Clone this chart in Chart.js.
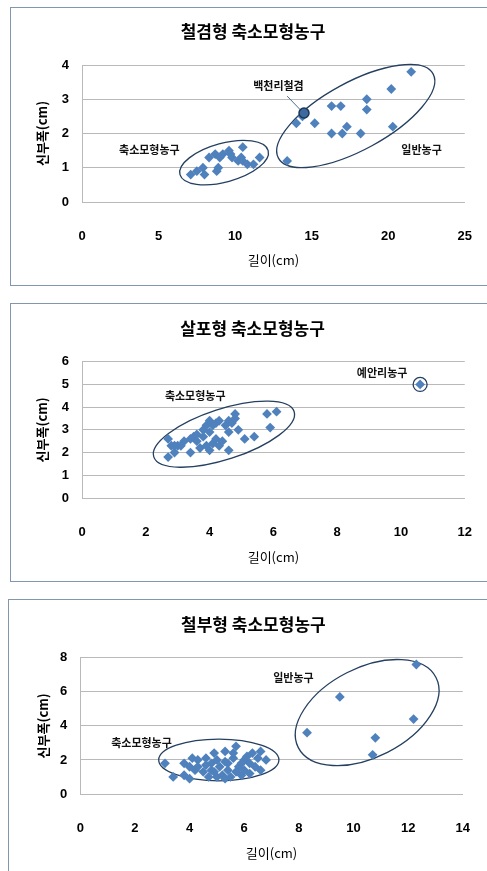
<!DOCTYPE html>
<html>
<head>
<meta charset="utf-8">
<script src="https://cdn.jsdelivr.net/npm/chart.js@4.4.0/dist/chart.umd.min.js"></script>
<style>
  html, body { margin: 0; padding: 0; background: #fff; overflow: hidden; width: 487px; height: 871px; }
  .box { position: absolute; width: 480px; height: 277px; border: 1px solid #8296ae; }
  .box canvas { display: block; }
</style>
</head>
<body>
<div class="box" style="left:10px; top:7px;"><canvas id="c1" width="480" height="277"></canvas></div>
<div class="box" style="left:10px; top:303px;"><canvas id="c2" width="480" height="277"></canvas></div>
<div class="box" style="left:8px; top:599px;"><canvas id="c3" width="480" height="277"></canvas></div>
<script>
// shared axis titles
const xTitle = '길이(cm)';
const yTitle = '신부폭(cm)';

// 1. 철겸형
const title1 = '철겸형 축소모형농구';
const xTicks1 = [0, 5, 10, 15, 20, 25];
const yTicks1 = [0, 1, 2, 3, 4];
const smallX1 = [7.1, 7.5, 7.9, 8.0, 8.3, 8.7, 8.8, 8.9, 9.0, 9.2, 9.6, 9.7, 9.8, 10.2, 10.5, 10.4, 10.5, 10.8, 11.2, 11.6];
const smallY1 = [0.8, 0.9, 1.0, 0.8, 1.3, 1.4, 0.9, 1.0, 1.3, 1.4, 1.5, 1.4, 1.3, 1.2, 1.6, 1.3, 1.2, 1.1, 1.1, 1.3];
const largeX1 = [13.4, 14.0, 14.4, 15.2, 16.3, 16.9, 16.3, 17.0, 17.3, 18.2, 18.6, 18.6, 20.2, 20.3, 21.5];
const largeY1 = [1.2, 2.3, 2.5, 2.3, 2.8, 2.8, 2.0, 2.0, 2.2, 2.0, 3.0, 2.7, 3.3, 2.2, 3.8];
const markX1 = [14.5];
const markY1 = [2.6];
// ellipse: centre x, centre y, major-axis end x, end y, minor/major
const ellipses1 = [[9.28, 1.15, 12.16, 1.50, 0.424], [17.88, 2.51, 22.93, 3.74, 0.384]];
const notes1 = [['축소모형농구', 4.4, 1.51], ['백천리철겸', 12.83, 3.39], ['일반농구', 22.18, 1.51]];
const leaders1 = [[13.4, 3.09, 14.35, 2.65]];

// 2. 살포형
const title2 = '살포형 축소모형농구';
const xTicks2 = [0, 2, 4, 6, 8, 10, 12];
const yTicks2 = [0, 1, 2, 3, 4, 5, 6];
const smallX2 = [2.7, 2.7, 2.8, 2.9, 2.9, 3.0, 3.1, 3.2, 3.4, 3.4, 3.5, 3.6, 3.6, 3.7, 3.8, 3.8, 3.9, 3.9, 4.0, 4.0,
                 4.0, 4.1, 4.1, 4.2, 4.2, 4.3, 4.3, 4.4, 4.5, 4.6, 4.6, 4.6, 4.7, 4.8, 4.8, 4.9, 5.1, 5.4, 5.8, 6.1, 5.9];
const smallY2 = [2.6, 1.8, 2.3, 2.0, 2.3, 2.3, 2.3, 2.5, 2.0, 2.6, 2.7, 2.8, 2.5, 2.2, 3.0, 2.7, 3.2, 2.3, 3.4, 2.1,
                 2.9, 3.2, 2.4, 3.3, 2.6, 3.4, 2.3, 2.5, 3.2, 3.4, 2.9, 2.1, 3.3, 3.7, 3.5, 3.0, 2.6, 2.7, 3.7, 3.8, 3.1];
const largeX2 = [10.6];
const largeY2 = [5.0];
const ellipses2 = [[4.45, 2.81, 6.65, 3.81, 0.343]];
const notes2 = [['축소모형농구', 3.55, 4.49], ['예안리농구', 9.41, 5.49]];

// 3. 철부형
const title3 = '철부형 축소모형농구';
const xTicks3 = [0, 2, 4, 6, 8, 10, 12, 14];
const yTicks3 = [0, 2, 4, 6, 8];
const smallX3 = [3.1, 3.4, 3.8, 3.8, 4.0, 4.1, 4.2, 4.3, 4.5, 4.6, 4.7, 4.8, 4.9, 4.9, 5.0, 5.1, 5.2, 5.3, 5.3, 5.4,
                 5.5, 5.6, 5.6, 5.7, 5.8, 5.9, 6.0, 6.0, 6.2, 6.2, 6.3, 6.4, 6.5, 6.6, 6.6, 6.8, 4.3, 4.8, 5.4, 5.7,
                 6.1, 5.3, 4.6, 4.0, 5.9, 5.0];
const smallY3 = [1.8, 1.0, 1.8, 1.1, 0.9, 2.1, 1.4, 2.0, 1.3, 1.7, 1.0, 1.8, 2.4, 1.3, 1.0, 1.6, 1.1, 2.5, 1.9, 1.4,
                 1.0, 2.1, 2.4, 2.8, 1.6, 1.1, 2.0, 1.4, 1.8, 1.2, 2.4, 1.6, 2.1, 1.4, 2.5, 2.0, 1.6, 1.4, 1.8, 1.3,
                 2.2, 0.9, 2.1, 1.6, 1.8, 2.0];
const largeX3 = [8.3, 9.5, 10.8, 10.7, 12.2, 12.3];
const largeY3 = [3.6, 5.7, 3.3, 2.3, 4.4, 7.6];
const ellipses3 = [[5.07, 2.0, 7.27, 2.0, 0.347], [10.50, 4.78, 13.02, 6.84, 0.578]];
const notes3 = [['축소모형농구', 2.24, 3.01], ['일반농구', 7.8, 6.83]];

const BLUE = '#4f81bd';
const NAVY = '#243f60';
const GRID = '#b9b9b9';
const KR = '"Noto Sans CJK KR", "Noto Sans", sans-serif';

const toPoints = (xs, ys) => xs.map((v, i) => ({ x: v, y: ys[i] }));

function overlay(ellipses, notes, leaders) {
    return {
        id: 'overlay',
        beforeDatasetsDraw(chart) {
            const { ctx, scales: { x, y } } = chart;
            ctx.save();
            ctx.strokeStyle = NAVY;
            ctx.lineWidth = 1.3;
            ellipses.forEach(([cx, cy, ex, ey, r]) => {
                const px = x.getPixelForValue(cx), py = y.getPixelForValue(cy);
                const qx = x.getPixelForValue(ex), qy = y.getPixelForValue(ey);
                const a = Math.hypot(qx - px, qy - py);
                ctx.beginPath();
                ctx.ellipse(px, py, a, a * r, Math.atan2(qy - py, qx - px), 0, Math.PI * 2);
                ctx.stroke();
            });
            ctx.strokeStyle = '#4a6a8f';
            ctx.lineWidth = 1;
            leaders.forEach(([x0, y0, x1, y1]) => {
                ctx.beginPath();
                ctx.moveTo(x.getPixelForValue(x0), y.getPixelForValue(y0));
                ctx.lineTo(x.getPixelForValue(x1), y.getPixelForValue(y1));
                ctx.stroke();
            });
            ctx.restore();
        },
        afterDatasetsDraw(chart) {
            const { ctx, scales: { x, y } } = chart;
            ctx.save();
            ctx.fillStyle = '#111';
            ctx.font = 'bold 11px ' + KR;
            ctx.textAlign = 'center';
            ctx.textBaseline = 'middle';
            notes.forEach(([t, nx, ny]) => ctx.fillText(t, x.getPixelForValue(nx), y.getPixelForValue(ny)));
            ctx.restore();
        }
    };
}

function buildChart(id, title, xTicks, yTicks, datasets, extras, g) {
    const diamond = { pointStyle: 'rectRot', pointRadius: 4.9, backgroundColor: BLUE, borderColor: BLUE, borderWidth: 0 };
    new Chart(document.getElementById(id), {
        type: 'scatter',
        data: {
            datasets: datasets.map(d => Object.assign({}, diamond, d))
        },
        options: {
            responsive: false,
            animation: false,
            events: [],
            layout: { padding: { top: 0, left: g.padL, right: g.padR, bottom: 10 } },
            plugins: {
                legend: { display: false },
                tooltip: { enabled: false },
                title: {
                    display: true,
                    text: title,
                    color: '#000',
                    font: { family: KR, size: 17, weight: 'bold' },
                    padding: { top: g.tTop, bottom: g.tBot }
                }
            },
            scales: {
                x: {
                    type: 'linear',
                    min: xTicks[0],
                    max: xTicks[xTicks.length - 1],
                    afterFit: s => { s.height = 73; },
                    ticks: {
                        stepSize: xTicks[1] - xTicks[0],
                        padding: 19,
                        color: '#000',
                        font: { family: '"Liberation Sans", Arial, sans-serif', size: 13, weight: 'bold' }
                    },
                    grid: { display: false },
                    border: { display: true, color: GRID },
                    title: {
                        display: true,
                        text: xTitle,
                        color: '#000',
                        font: { family: KR, size: 13 },
                        padding: { top: 0, bottom: g.xTitlePad }
                    }
                },
                y: {
                    type: 'linear',
                    min: yTicks[0],
                    max: yTicks[yTicks.length - 1],
                    afterFit: s => { s.width = g.yW; },
                    ticks: {
                        stepSize: yTicks[1] - yTicks[0],
                        padding: 13,
                        color: '#000',
                        font: { family: '"Liberation Sans", Arial, sans-serif', size: 13, weight: 'bold' }
                    },
                    grid: { color: GRID, drawTicks: false },
                    border: { display: true, color: GRID },
                    title: {
                        display: true,
                        text: yTitle,
                        color: '#000',
                        font: { family: KR, size: 13, weight: 'bold' },
                        padding: { top: g.yTitlePad, bottom: 0 }
                    }
                }
            }
        },
        plugins: [extras]
    });
}

buildChart('c1', title1, xTicks1, yTicks1, [
    { label: '백천리철겸', data: toPoints(markX1, markY1), pointStyle: 'circle', pointRadius: 5,
      backgroundColor: '#3d6a9e', borderColor: '#1c3553', borderWidth: 1.5 },
    { label: '축소모형농구', data: toPoints(smallX1, smallY1) },
    { label: '일반농구', data: toPoints(largeX1, largeY1) }
], overlay(ellipses1, notes1, leaders1),
   { padL: 19, padR: 15, yW: 52, yTitlePad: 4.2, tTop: 13.8, tBot: 22.8, xTitlePad: 7.2 });

buildChart('c2', title2, xTicks2, yTicks2, [
    { label: '예안리농구 표시', data: toPoints(largeX2, largeY2), pointStyle: 'circle', pointRadius: 7,
      backgroundColor: 'rgba(0,0,0,0)', borderColor: NAVY, borderWidth: 1.3 },
    { label: '축소모형농구', data: toPoints(smallX2, smallY2) },
    { label: '예안리농구', data: toPoints(largeX2, largeY2) }
], overlay(ellipses2, notes2, []),
   { padL: 20, padR: 17, yW: 51, yTitlePad: 3.2, tTop: 14.8, tBot: 22.5, xTitlePad: 6.2 });

buildChart('c3', title3, xTicks3, yTicks3, [
    { label: '축소모형농구', data: toPoints(smallX3, smallY3) },
    { label: '일반농구', data: toPoints(largeX3, largeY3) }
], overlay(ellipses3, notes3, []),
   { padL: 20, padR: 11.3, yW: 51.3, yTitlePad: 6.2, tTop: 14.8, tBot: 22.5, xTitlePad: 6.2 });
</script>
</body>
</html>
